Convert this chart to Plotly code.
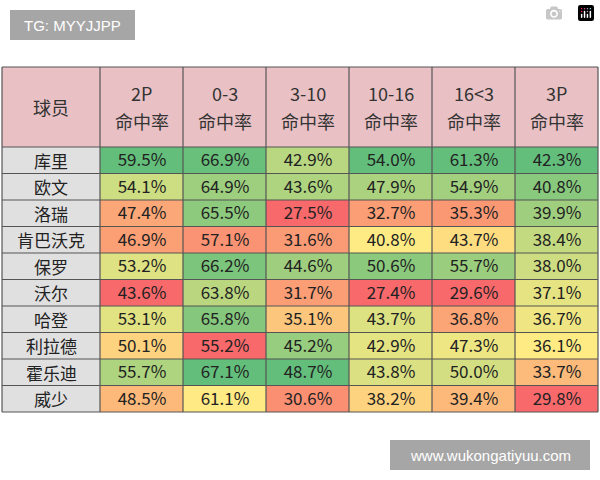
import plotly.graph_objects as go
import numpy as np

players = ["库里","欧文","洛瑞","肯巴沃克","保罗","沃尔","哈登","利拉德","霍乐迪","威少"]
headers_top = ["2P","0-3","3-10","10-16","16<3","3P"]
header_sub = "命中率"
p2   = [59.5,54.1,47.4,46.9,53.2,43.6,53.1,50.1,55.7,48.5]
r03  = [66.9,64.9,65.5,57.1,66.2,63.8,65.8,55.2,67.1,61.1]
r310 = [42.9,43.6,27.5,31.6,44.6,31.7,35.1,45.2,48.7,30.6]
r1016= [54.0,47.9,32.7,40.8,50.6,27.4,43.7,42.9,43.8,38.2]
r16  = [61.3,54.9,35.3,43.7,55.7,29.6,36.8,47.3,50.0,39.4]
p3   = [42.3,40.8,39.9,38.4,38.0,37.1,36.7,36.1,33.7,29.8]
cols = [p2,r03,r310,r1016,r16,p3]

X0, NAMEW, CW = 2, 98, 83
HY0, HY1, RH = 67, 147, 26.5
FONT = "Noto Sans CJK SC"

vals = np.array(cols).T
z = (vals - vals.min(axis=0)) / (vals.max(axis=0) - vals.min(axis=0))
text = [[f"{v:.1f}%" for v in row] for row in vals]

fig = go.Figure(go.Heatmap(
    z=z, text=text, texttemplate="%{text}",
    textfont=dict(size=17, color="#222", family=FONT),
    x0=X0+NAMEW+CW/2, dx=CW, y0=HY1+RH/2, dy=RH,
    colorscale=[[0,"#f8696b"],[0.5,"#ffeb84"],[1,"#63be7b"]],
    showscale=False, hoverinfo="skip"))

shapes, ann = [], []
right = X0+NAMEW+CW*len(headers_top)
bottom = HY1+RH*len(players)
shapes.append(dict(type="rect", x0=X0, x1=right, y0=HY0, y1=HY1, fillcolor="#e9c1c5", line_width=0, layer="below"))
shapes.append(dict(type="rect", x0=X0, x1=X0+NAMEW, y0=HY1, y1=bottom, fillcolor="#e0e0e0", line_width=0, layer="below"))
ann.append(dict(x=X0+NAMEW/2, y=(HY0+HY1)/2, text="球员", showarrow=False, font=dict(size=18, color="#333", family=FONT)))
for i, h in enumerate(headers_top):
    cx = X0+NAMEW+CW*(i+0.5)
    ann.append(dict(x=cx, y=93, text=h, showarrow=False, font=dict(size=18, color="#333", family=FONT)))
    ann.append(dict(x=cx, y=121, text=header_sub, showarrow=False, font=dict(size=18, color="#333", family=FONT)))
for j, p in enumerate(players):
    ann.append(dict(x=X0+NAMEW/2, y=HY1+RH*(j+0.5), text=p, showarrow=False, font=dict(size=17, color="#222", family=FONT)))
for j in range(len(players)+2):
    y = HY0 if j == 0 else HY1+RH*(j-1)
    shapes.append(dict(type="line", x0=X0, x1=right, y0=y, y1=y, line=dict(color="#555", width=1.2)))
for i in range(len(headers_top)+2):
    x = X0 if i == 0 else X0+NAMEW+CW*(i-1)
    shapes.append(dict(type="line", x0=x, x1=x, y0=HY0, y1=bottom, line=dict(color="#555", width=1.2)))
shapes.append(dict(type="rect", x0=10, x1=135, y0=10, y1=40, fillcolor="#a6a6a6", line_width=0))
ann.append(dict(x=72, y=25, text="TG: MYYJJPP", showarrow=False, font=dict(size=15, color="white", family="Liberation Sans")))
shapes.append(dict(type="rect", x0=390, x1=590, y0=440, y1=470, fillcolor="#a6a6a6", line_width=0))
ann.append(dict(x=490, y=455, text="www.wukongatiyuu.com", showarrow=False, font=dict(size=15, color="white", family="Liberation Sans")))

fig.update_layout(width=600, height=480, margin=dict(l=0,r=0,t=0,b=0),
    paper_bgcolor="white", plot_bgcolor="white", shapes=shapes, annotations=ann,
    xaxis=dict(range=[0,600], visible=False, fixedrange=True),
    yaxis=dict(range=[480,0], visible=False, fixedrange=True))
fig.write_html("out.html", post_script="document.body.style.margin='0';")
